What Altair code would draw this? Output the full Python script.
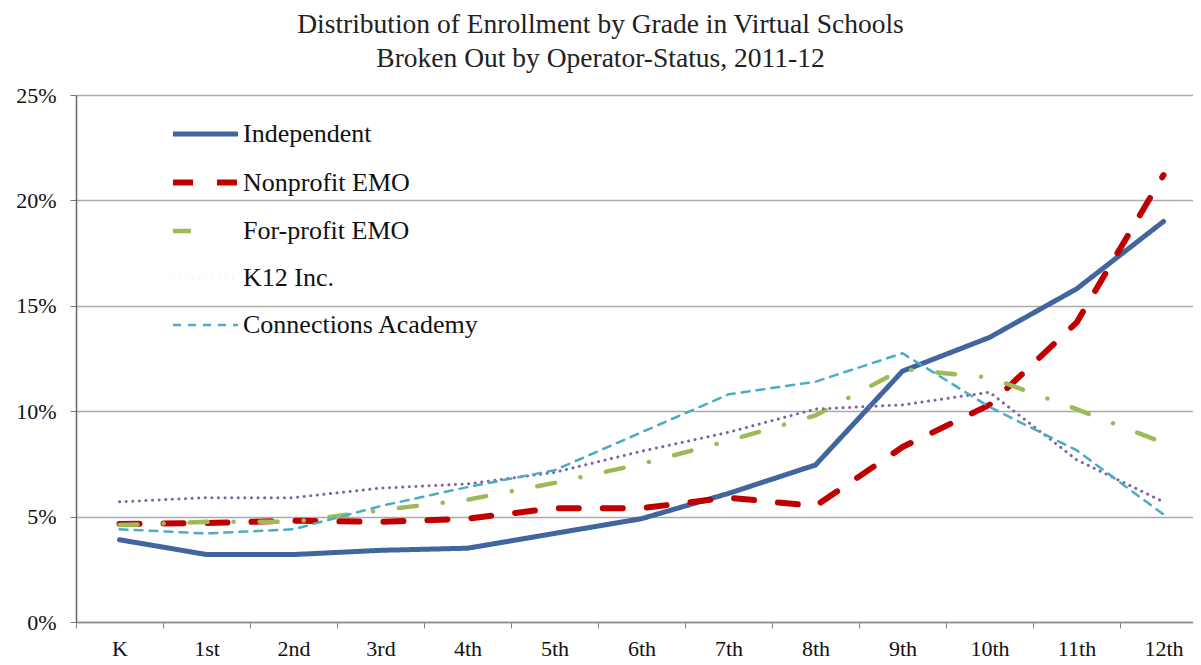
import altair as alt
import pandas as pd

grades = ["K", "1st", "2nd", "3rd", "4th", "5th", "6th", "7th", "8th", "9th", "10th", "11th", "12th"]
series_names = ["Independent", "Nonprofit EMO", "For-profit EMO", "K12 Inc.", "Connections Academy"]

# percent of enrollment
independent = [3.9, 3.2, 3.2, 3.4, 3.5, 4.2, 4.9, 6.1, 7.45, 11.9, 13.5, 15.8, 19.0]
nonprofit = [4.65, 4.7, 4.8, 4.75, 4.9, 5.4, 5.4, 5.9, 5.5, 8.3, 10.3, 14.2, 21.2]
forprofit = [4.6, 4.75, 4.75, 5.3, 5.8, 6.6, 7.5, 8.6, 9.8, 12.0, 11.6, 10.1, 8.5]
k12 = [5.7, 5.9, 5.9, 6.35, 6.55, 7.1, 8.1, 9.0, 10.1, 10.3, 10.9, 7.7, 5.7]
connections = [4.4, 4.2, 4.4, 5.5, 6.4, 7.2, 9.0, 10.8, 11.4, 12.75, 10.2, 8.15, 5.1]

colors = ["#41659f", "#c00000", "#9bbb59", "#8064a2", "#4bacc6"]
dashes = [[1, 0], [20, 24], [18, 26, 0.1, 26], [0.1, 6.5], [8, 7]]
widths = [5, 6, 4.5, 3, 2.5]

SERIF = "Liberation Serif, Times New Roman, serif"

all_series = [independent, nonprofit, forprofit, k12, connections]
rows = []
for name, vals in zip(series_names, all_series):
    for g, v in zip(grades, vals):
        rows.append({"grade": g, "series": name, "value": v / 100.0})
df = pd.DataFrame(rows)

legend = alt.Legend(
    title=None,
    orient="none",
    legendX=94,
    legendY=4,
    symbolType="stroke",
    symbolSize=4225,
    rowPadding=-17,
    labelOffset=2,
    labelLimit=400,
)

chart = (
    alt.Chart(df)
    .mark_line(strokeCap="round", strokeJoin="round")
    .encode(
        x=alt.X(
            "grade:N",
            sort=grades,
            title=None,
            scale=alt.Scale(type="band", range=[0, 1131], paddingInner=0, paddingOuter=0),
            axis=alt.Axis(
                tickBand="extent",
                labelAngle=0,
                grid=False,
                ticks=True,
                tickSize=6,
                tickColor="#888888",
                domainColor="#888888",
                domainWidth=1.5,
                labelPadding=10,
            ),
        ),
        y=alt.Y(
            "value:Q",
            title=None,
            scale=alt.Scale(domain=[0, 0.25], nice=False),
            axis=alt.Axis(
                format=".0%",
                values=[0, 0.05, 0.10, 0.15, 0.20, 0.25],
                grid=True,
                gridColor="#aaaaaa",
                gridWidth=1.5,
                tickSize=6,
                tickColor="#777777",
                domainColor="#666666",
                domainWidth=1.5,
                labelPadding=14,
            ),
        ),
        color=alt.Color("series:N", sort=series_names,
                        scale=alt.Scale(domain=series_names, range=colors), legend=legend),
        strokeDash=alt.StrokeDash("series:N", sort=series_names,
                                  scale=alt.Scale(domain=series_names, range=dashes), legend=legend),
        strokeWidth=alt.StrokeWidth("series:N", sort=series_names,
                                    scale=alt.Scale(type="ordinal", domain=series_names, range=widths),
                                    legend=legend),
        order=alt.Order("series:N"),
    )
    .properties(
        width=1117,
        height=527,
        autosize=alt.AutoSizeParams(type="none"),
        padding={"left": 68, "top": 87, "right": 0, "bottom": 42},
        title=alt.Title(
            ["Distribution of Enrollment by Grade in Virtual Schools",
             "Broken Out by Operator-Status, 2011-12"],
            font=SERIF,
            fontSize=27.5,
            fontWeight="normal",
            color="#222222",
            lineHeight=34,
            anchor="middle",
            offset=12,
            dx=-34,
        ),
    )
    .configure_view(stroke=None)
    .configure_axis(
        labelFont=SERIF,
        labelFontSize=22,
        labelColor="#111111",
    )
    .configure_legend(
        labelFont=SERIF,
        labelFontSize=26,
        labelColor="#111111",
    )
)

chart.save("out.html", embed_options={"renderer": "svg", "actions": False})
